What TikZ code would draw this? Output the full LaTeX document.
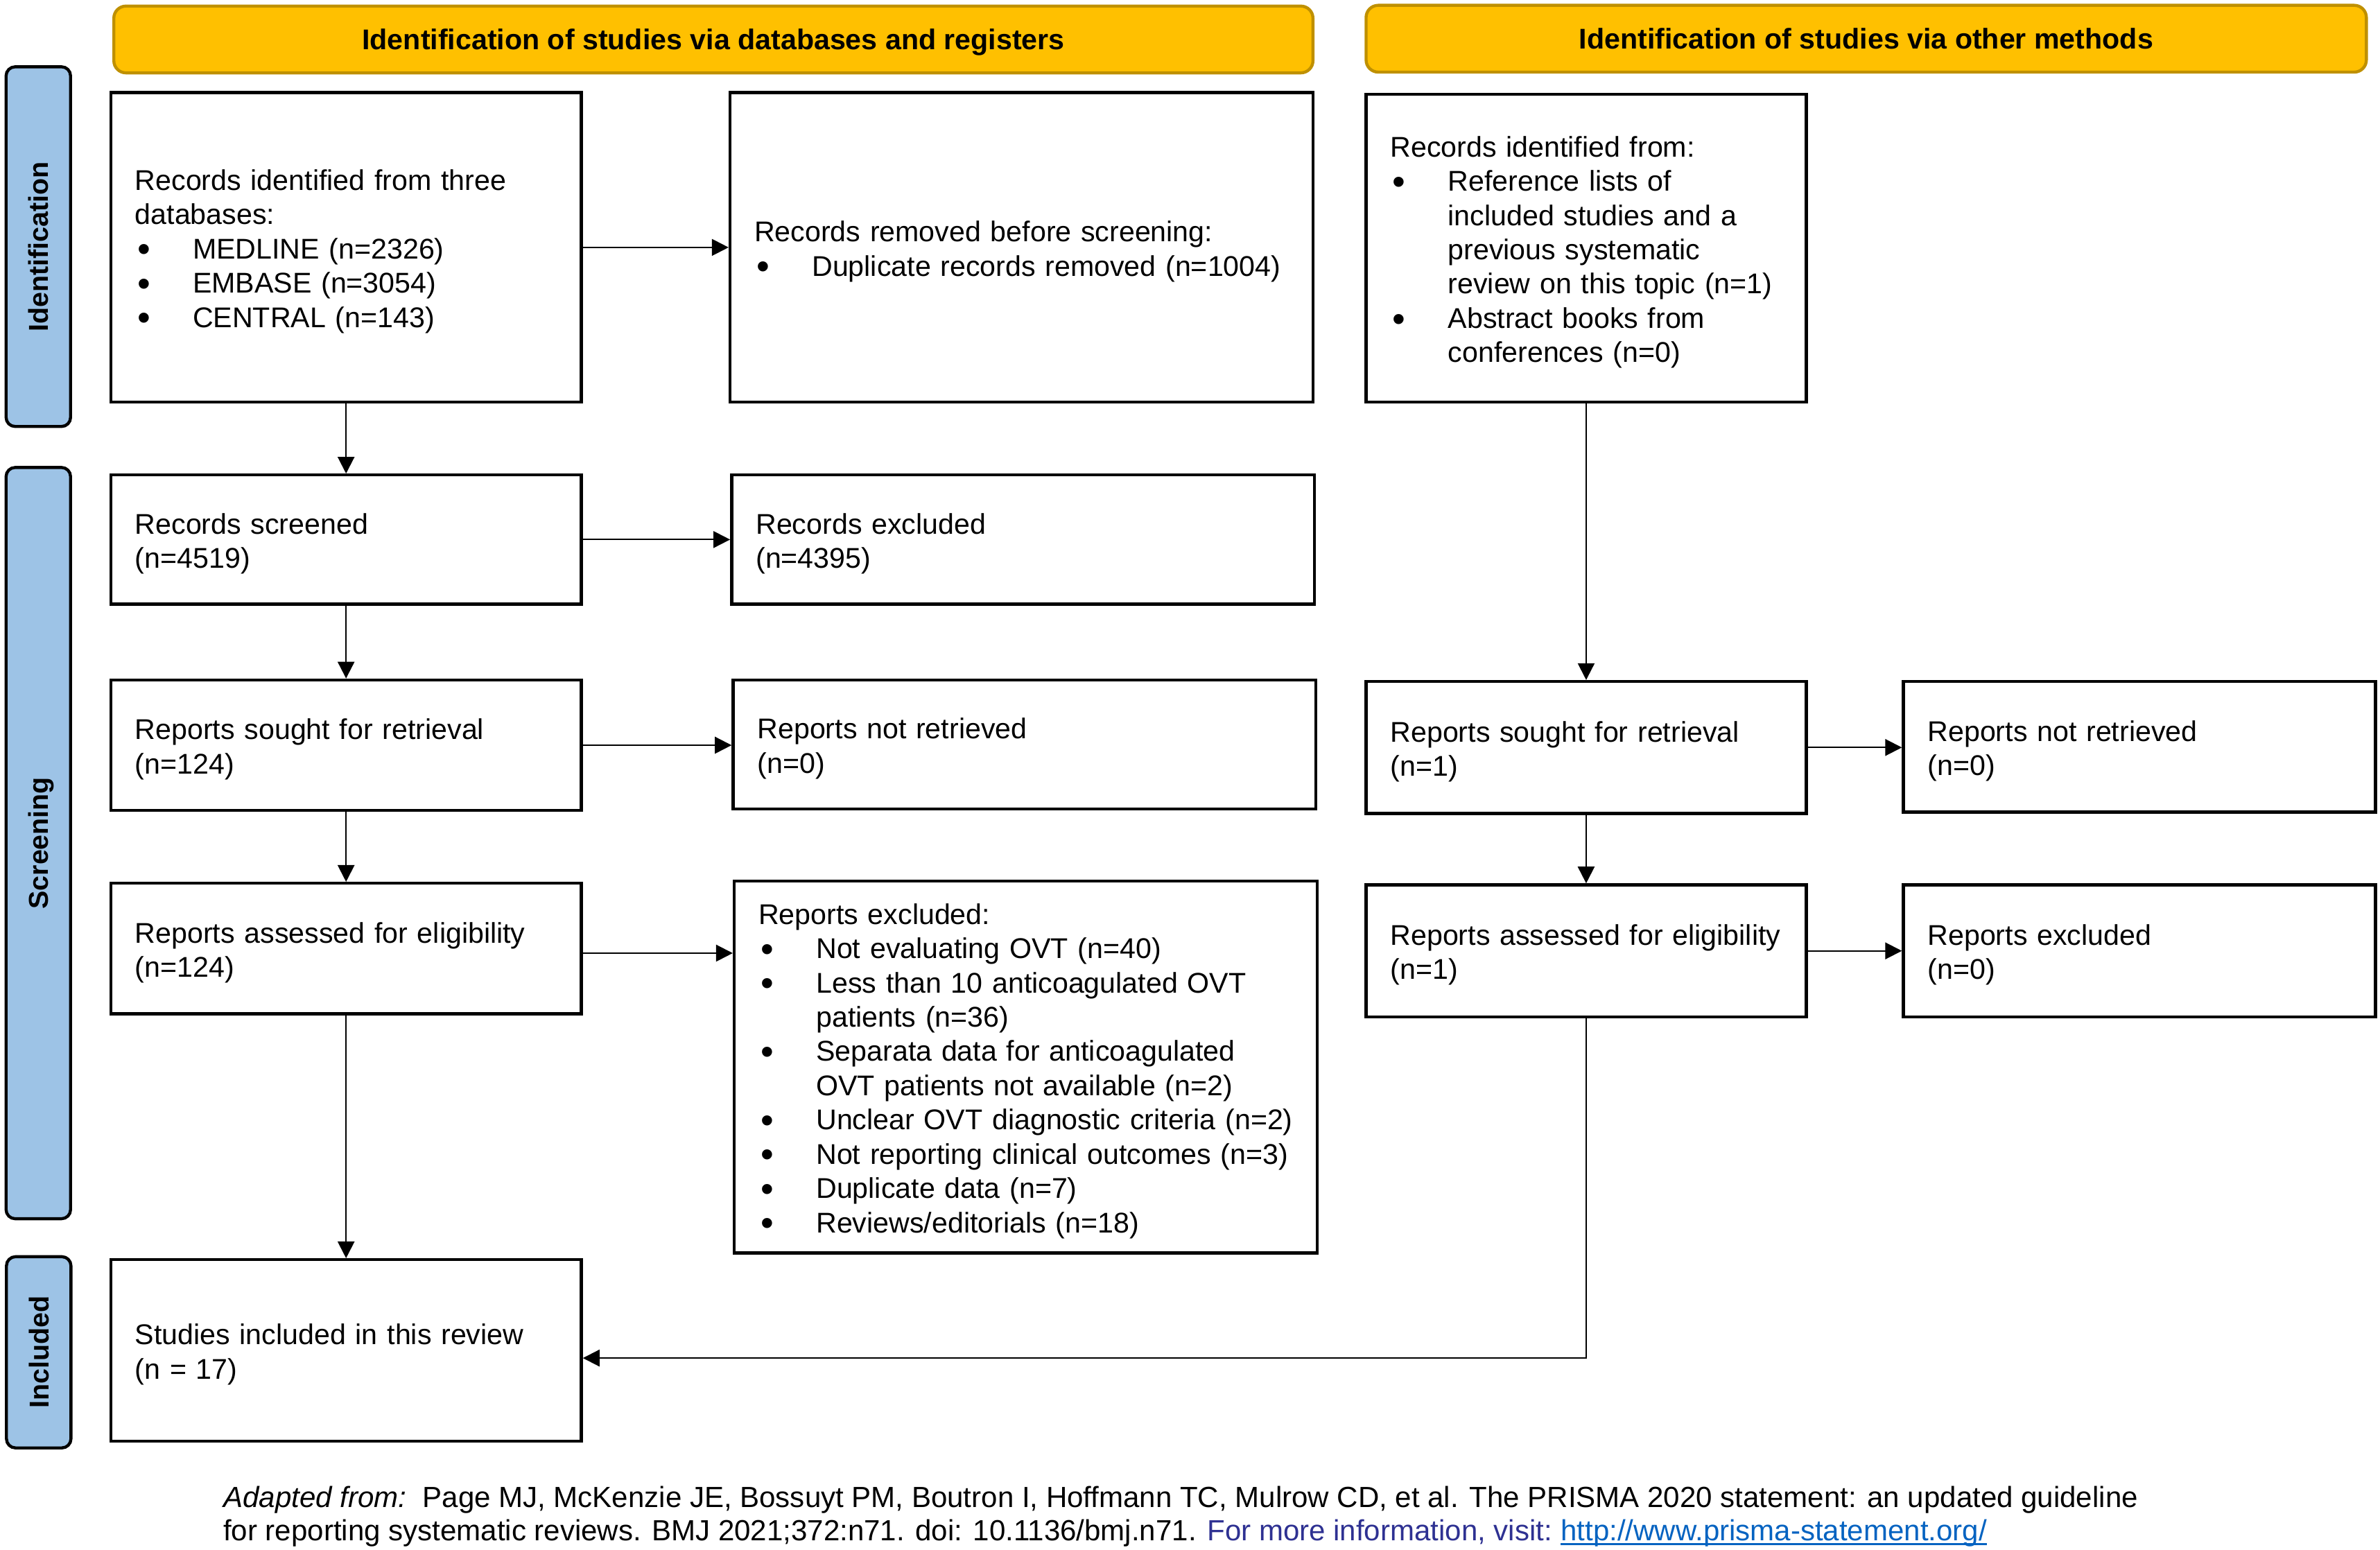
\documentclass[tikz,border=0pt]{standalone}
\usepackage{fontspec}
\setmainfont{Liberation Sans}
\usetikzlibrary{arrows.meta}
\definecolor{hdrfill}{HTML}{FFC000}
\definecolor{hdrline}{HTML}{BF9000}
\definecolor{sidefill}{HTML}{9DC3E6}
\definecolor{navyblue}{HTML}{2E3192}
\definecolor{linkblue}{HTML}{0563C1}
\setlength{\parindent}{0pt}
\newcommand{\bodyfont}{\fontsize{18.8}{22.6}\selectfont}
\newcommand{\footfont}{\fontsize{19.2}{22}\selectfont}
\newcommand{\sidefont}{\fontsize{18}{21}\selectfont}
\newcommand{\bl}[1]{\mbox{\makebox[38pt][l]{\hspace{1.5pt}\raisebox{-0.11em}{\scalebox{1.3}{\textbullet}}}#1}}
\newcommand{\cl}[1]{\mbox{\hspace*{38pt}#1}}
\tikzset{
  box/.style={draw=black, line width=2pt, fill=white, align=left,
    inner xsep=16pt, inner ysep=0pt, font=\bodyfont,
    execute at begin node={\rule{0pt}{19pt}}},
  hdr/.style={draw=hdrline, line width=2pt, fill=hdrfill, rounded corners=8pt,
    font=\bodyfont\bfseries, inner sep=0pt, align=center,
    text height=13.5pt, text depth=0pt},
  side/.style={draw=black, line width=2pt, fill=sidefill, rounded corners=6pt,
    rotate=90, font=\sidefont\bfseries, inner sep=0pt,
    text height=13pt, text depth=0pt},
  arr/.style={-{Triangle[length=11pt,width=11pt]}, line width=1pt},
  foot/.style={font=\footfont, inner sep=0pt, anchor=base west}
}
\begin{document}
\begin{tikzpicture}[x=1pt,y=-1pt]
\useasboundingbox[fill=white] (0,0) rectangle (1568,1021);

% headers
\node[hdr, minimum width=790pt, minimum height=44pt] (H1) at (470,26)
  {Identification of studies via databases and registers};
\node[hdr, minimum width=659pt, minimum height=44pt] (H2) at (1229.5,25.5)
  {Identification of studies via other methods};

% side bars
\node[side, minimum width=237pt, minimum height=42.5pt] (S1) at (25.25,162.5) {Identification};
\node[side, minimum width=495pt, minimum height=42.5pt] (S2) at (25.25,555.5) {Screening};
\node[side, minimum width=126pt, minimum height=42.5pt] (S3) at (25.5,891) {Included};

% left column
\node[box, text width=278pt, minimum height=204pt] (A) at (228,163)
  {Records identified from three\\ databases:\\
   \bl{MEDLINE (n=2326)}\\
   \bl{EMBASE (n=3054)}\\
   \bl{CENTRAL (n=143)}};
\node[box, text width=352pt, minimum height=204pt] (B) at (673,163)
  {Records removed before screening:\\
   \bl{Duplicate records removed (n=1004)}};
\node[box, text width=278pt, minimum height=85pt] (C) at (228,355.5)
  {Records screened\\ (n=4519)};
\node[box, text width=352pt, minimum height=85pt] (D) at (674,355.5)
  {Records excluded\\ (n=4395)};
\node[box, text width=278pt, minimum height=86pt] (E) at (228,491)
  {Reports sought for retrieval\\ (n=124)};
\node[box, text width=352pt, minimum height=85pt] (F) at (675,490.5)
  {Reports not retrieved\\ (n=0)};
\node[box, text width=278pt, minimum height=86pt] (G) at (228,625)
  {Reports assessed for eligibility\\ (n=124)};
\node[box, text width=352pt, minimum height=245pt] (H) at (675.75,703)
  {Reports excluded:\\
   \bl{Not evaluating OVT (n=40)}\\
   \bl{Less than 10 anticoagulated OVT}\\
   \cl{patients (n=36)}\\
   \bl{Separata data for anticoagulated}\\
   \cl{OVT patients not available (n=2)}\\
   \bl{Unclear OVT diagnostic criteria (n=2)}\\
   \bl{Not reporting clinical outcomes (n=3)}\\
   \bl{Duplicate data (n=7)}\\
   \bl{Reviews/editorials (n=18)}};
\node[box, text width=278pt, minimum height=119.6pt] (I) at (228,889.8)
  {Studies included in this review\\ (n = 17)};

% right column
\node[box, text width=258pt, minimum height=203pt] (J) at (1045,163.5)
  {Records identified from:\\
   \bl{Reference lists of}\\
   \cl{included studies and a}\\
   \cl{previous systematic}\\
   \cl{review on this topic (n=1)}\\
   \bl{Abstract books from}\\
   \cl{conferences (n=0)}};
\node[box, text width=258pt, minimum height=87pt] (K) at (1045,492.5)
  {Reports sought for retrieval\\ (n=1)};
\node[box, text width=279pt, minimum height=86pt] (L) at (1409.5,492)
  {Reports not retrieved\\ (n=0)};
\node[box, text width=258pt, minimum height=87pt] (M) at (1045,626.5)
  {Reports assessed for eligibility\\ (n=1)};
\node[box, text width=279pt, minimum height=87pt] (N) at (1409.5,626.5)
  {Reports excluded\\ (n=0)};

% connectors
\draw[arr] (A) -- (B);
\draw[arr] (A) -- (C);
\draw[arr] (C) -- (C -| D.west);
\draw[arr] (C) -- (E);
\draw[arr] (E) -- (E -| F.west);
\draw[arr] (E) -- (G);
\draw[arr] ([yshift=-3pt]G.east) -- ([yshift=-3pt]G.east -| H.west);
\draw[arr] (G) -- (I);
\draw[arr] (J) -- (K);
\draw[arr] (K) -- (K -| L.west);
\draw[arr] (K) -- (M);
\draw[arr] (M) -- (M -| N.west);
\draw[arr] (M.south) |- ([yshift=-5pt]I.east);

% footer
\node[foot] (F1) at (147,993)
  {\textit{Adapted from:}\ \ Page MJ, McKenzie JE, Bossuyt PM, Boutron I, Hoffmann TC, Mulrow CD, et al. The PRISMA 2020 statement: an updated guideline};
\node[foot] (F2) at (147,1015)
  {for reporting systematic reviews. BMJ 2021;372:n71. doi: 10.1136/bmj.n71. \textcolor{navyblue}{For more information, visit:}};
\node[foot, xshift=5.3pt] (F3) at (F2.base east)
  {\textcolor{linkblue}{http://www.prisma-statement.org/}};
\draw[linkblue, line width=1.3pt] ([yshift=-2.5pt]F3.base west) -- ([yshift=-2.5pt]F3.base east);
\end{tikzpicture}
\end{document}
